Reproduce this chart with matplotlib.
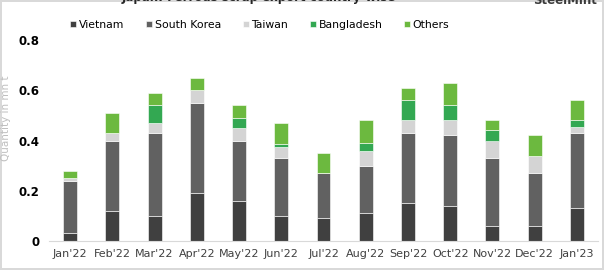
"""Japan ferrous scrap exports, stacked by destination country."""

import matplotlib
matplotlib.use("Agg")
import matplotlib.pyplot as plt
import numpy as np

months = ["Jan'22", "Feb'22", "Mar'22", "Apr'22", "May'22", "Jun'22", "Jul'22",
          "Aug'22", "Sep'22", "Oct'22", "Nov'22", "Dec'22", "Jan'23"]
vietnam = [0.03, 0.12, 0.10, 0.19, 0.16, 0.10, 0.09, 0.11, 0.15, 0.14, 0.06, 0.06, 0.13]
south_korea = [0.21, 0.28, 0.33, 0.36, 0.24, 0.23, 0.18, 0.19, 0.28, 0.28, 0.27, 0.21, 0.30]
taiwan = [0.01, 0.03, 0.04, 0.05, 0.05, 0.045, 0.0, 0.06, 0.05, 0.06, 0.07, 0.07, 0.025]
bangladesh = [0.0, 0.0, 0.07, 0.0, 0.04, 0.01, 0.0, 0.03, 0.08, 0.06, 0.04, 0.0, 0.025]
others = [0.03, 0.08, 0.05, 0.05, 0.05, 0.085, 0.08, 0.09, 0.05, 0.09, 0.04, 0.08, 0.08]

series = [
    ("Vietnam", vietnam, "#404040"),
    ("South Korea", south_korea, "#616161"),
    ("Taiwan", taiwan, "#d4d4d4"),
    ("Bangladesh", bangladesh, "#33a852"),
    ("Others", others, "#6cb93f"),
]

fig = plt.figure(figsize=(6.04, 2.7), dpi=100)
fig.patch.set_edgecolor("#d9d9d9")
fig.patch.set_linewidth(1.5)
ax = fig.add_axes([49 / 604, 29 / 270, 549 / 604, 201 / 270])

x = np.arange(len(months))
bottom = np.zeros(len(months))
for name, vals, color in series:
    ax.bar(x, vals, width=0.33, bottom=bottom, color=color, label=name,
           edgecolor="white", linewidth=0.4)
    bottom += np.array(vals)

ax.set_xlim(-0.5, len(months) - 0.5)
ax.set_ylim(0, 0.8)
ax.set_yticks([0, 0.2, 0.4, 0.6, 0.8])
ax.set_yticklabels(["0", "0.2", "0.4", "0.6", "0.8"], fontweight="bold", fontsize=8.5)
ax.set_xticks(x)
ax.set_xticklabels(months, fontsize=8, color="#404040")
ax.tick_params(length=0)
ax.tick_params(axis="y", pad=7)
ax.tick_params(axis="x", pad=6)
for side in ["top", "right", "left"]:
    ax.spines[side].set_visible(False)
ax.spines["bottom"].set_color("#d9d9d9")
ax.set_ylabel("Quantity in mn t", fontsize=7.5, color="#bfbfbf")
ax.yaxis.set_label_coords(-0.069, 0.61)

ax.legend(loc="center", bbox_to_anchor=(0.384, 1.075), ncol=5, frameon=False,
          fontsize=7.8, handlelength=0.55, handleheight=0.55, handletextpad=0.25,
          columnspacing=2.0)

fig.text(259 / 604, 1 - 1.5 / 270, "Japan: Ferrous scrap export country-wise",
         ha="center", va="baseline", fontsize=8.5, fontweight="bold", color="#262626")
fig.text(597 / 604, 1 - 4 / 270, "SteelMint", ha="right", va="baseline",
         fontsize=8.5, fontweight="bold", color="#3a3a3a")

fig.savefig("out.png", dpi=100)
